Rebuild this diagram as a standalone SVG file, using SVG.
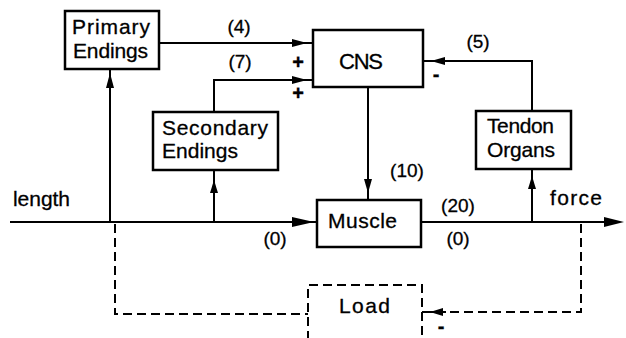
<svg xmlns="http://www.w3.org/2000/svg" width="626" height="338" viewBox="0 0 626 338">
<style>
.box{fill:#fff;stroke:#000;stroke-width:2.5}
.dbox{fill:none;stroke:#000;stroke-width:2;stroke-dasharray:9 5}
.ln{fill:none;stroke:#000;stroke-width:2}
.dash{fill:none;stroke:#000;stroke-width:2;stroke-dasharray:9 5}
.ah{fill:#000;stroke:none}
text{font-family:"Liberation Sans","DejaVu Sans",Arial,sans-serif;fill:#000;stroke:#000;stroke-width:0.3}
.lbl{font-size:21px}
.num{font-size:19px;text-anchor:middle}
.sg{font-size:20px;font-weight:bold;text-anchor:middle}
</style>
<rect width="626" height="338" fill="#fff"/>
<g id="connectors">
  <path class="ln" d="M10,222 H316"/>
  <polygon class="ah" points="314,222 292,217 292,227"/>
  <path class="ln" d="M110,222 V69"/>
  <polygon class="ah" points="110,73 106,88 114,88"/>
  <path class="ln" d="M214,222 V170"/>
  <polygon class="ah" points="214,180 210,193 218,193"/>
  <path class="ln" d="M159,43 H313"/>
  <polygon class="ah" points="307,43 292,39 292,47"/>
  <path class="ln" d="M214,112 V80 H313"/>
  <polygon class="ah" points="307,80 292,76 292,84"/>
  <path class="ln" d="M532,111 V61 H423"/>
  <polygon class="ah" points="431,61 445,57 445,65"/>
  <path class="ln" d="M368,87 V200"/>
  <polygon class="ah" points="368,193 364,179 372,179"/>
  <path class="ln" d="M421,222 H620"/>
  <polygon class="ah" points="624,222 604,217 604,227"/>
  <path class="ln" d="M532,222 V169"/>
  <polygon class="ah" points="532,176 528,189 536,189"/>
  <path class="dash" d="M115,224 V314 H308"/>
  <path class="dash" d="M581,224 V312 H446"/>
  <path class="ln" d="M446,312 H422"/>
  <polygon class="ah" points="430,312 443,308 443,316"/>
</g>
<g id="primary">
  <rect class="box" x="65" y="11" width="94" height="58"/>
  <text class="lbl" x="72" y="34" textLength="78">Primary</text>
  <text class="lbl" x="73" y="58" textLength="75">Endings</text>
</g>
<g id="secondary">
  <rect class="box" x="153" y="112" width="125" height="58"/>
  <text class="lbl" x="162" y="135" textLength="106">Secondary</text>
  <text class="lbl" x="162" y="158" textLength="76">Endings</text>
</g>
<g id="cns">
  <rect class="box" x="313" y="30" width="110" height="57"/>
  <text class="lbl" x="339" y="69" textLength="44" style="font-size:22px">CNS</text>
</g>
<g id="tendon">
  <rect class="box" x="476" y="111" width="95" height="58"/>
  <text class="lbl" x="487" y="133" textLength="67">Tendon</text>
  <text class="lbl" x="487" y="157" textLength="68">Organs</text>
</g>
<g id="muscle">
  <rect class="box" x="317" y="200" width="104" height="47"/>
  <text class="lbl" x="328" y="228" textLength="69">Muscle</text>
</g>
<g id="load">
  <path class="dbox" d="M308,340 V285 H422 V340"/>
  <text class="lbl" x="339" y="313" textLength="51">Load</text>
</g>
<g id="labels">
  <text class="num" x="239" y="33">(4)</text>
  <text class="num" x="240" y="68">(7)</text>
  <text class="num" x="478" y="48">(5)</text>
  <text class="num" x="407" y="177">(10)</text>
  <text class="num" x="458" y="212">(20)</text>
  <text class="num" x="458" y="245">(0)</text>
  <text class="num" x="275" y="245">(0)</text>
  <text class="sg" x="298" y="69">+</text>
  <text class="sg" x="298" y="100">+</text>
  <text class="sg" x="436" y="81">-</text>
  <text class="sg" x="441" y="333">-</text>
  <text class="lbl" x="13" y="206" textLength="57">length</text>
  <text class="lbl" x="550" y="205" textLength="52">force</text>
</g>
</svg>
